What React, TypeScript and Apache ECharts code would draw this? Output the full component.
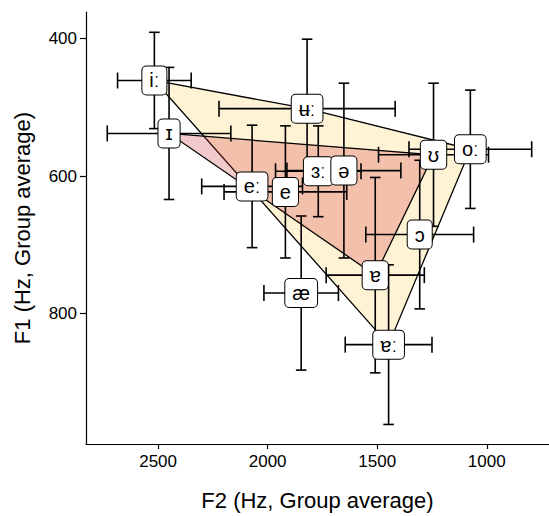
import { useEffect, useRef } from 'react';
import * as echarts from 'echarts';

// Vowel group averages (Hz) and standard deviations
const vowels = ['iː', 'ɪ', 'ʉː', 'ʊ', 'oː', 'ɜː', 'ə', 'eː', 'e', 'ɔ', 'ɐ', 'æ', 'ɐː'];
const f2Mean = [2517, 2450, 1820, 1243, 1075, 1769, 1652, 2071, 1919, 1306, 1509, 1847, 1448];
const f1Mean = [461, 538, 502, 569, 561, 593, 592, 615, 623, 685, 744, 770, 845];
const f2Sd = [168, 282, 402, 251, 280, 195, 260, 230, 280, 246, 224, 170, 198];
const f1Sd = [70, 96, 101, 104, 86, 66, 127, 89, 96, 108, 142, 112, 116];

// Polygon vertices (by vowel)
const longVowels = ['iː', 'ʉː', 'oː', 'ɐː'];
const shortVowels = ['ɪ', 'ʊ', 'ɐ'];

// Ticks
const xTicks = [1000, 1500, 2000, 2500];
const yTicks = [400, 600, 800];

const FONT = '"Liberation Sans", Arial, "DejaVu Sans", sans-serif';

function polygonSeries(names: string[], fill: string, z: number) {
  return {
    type: 'custom',
    z,
    silent: true,
    data: [[0]],
    renderItem: (_params: any, api: any) => {
      const points = names.map((n) => {
        const i = vowels.indexOf(n);
        return api.coord([f2Mean[i], f1Mean[i]]);
      });
      return {
        type: 'polygon',
        shape: { points },
        style: { fill, stroke: '#000', lineWidth: 1.3 },
      };
    },
  };
}

export default function App() {
  const ref = useRef<HTMLDivElement>(null);

  useEffect(() => {
    if (!ref.current) return;
    const chart = echarts.init(ref.current, null, { renderer: 'svg' });

    const barData = vowels.map((_, i) => [f2Mean[i], f1Mean[i], f2Sd[i], f1Sd[i]]);
    const labelData = vowels.map((v, i) => [f2Mean[i], f1Mean[i], v]);

    chart.setOption({
      animation: false,
      backgroundColor: '#fff',
      grid: { left: 86, top: 12, right: 0, bottom: 70 },
      xAxis: {
        type: 'value',
        inverse: true,
        min: 716,
        max: 2829,
        name: 'F2 (Hz, Group average)',
        nameLocation: 'middle',
        nameGap: 45,
        nameTextStyle: { fontSize: 22, fontFamily: FONT, color: '#000' },
        axisLine: { show: true, onZero: false, lineStyle: { color: '#000', width: 1.2 } },
        axisTick: { show: true, length: 5, customValues: xTicks, lineStyle: { color: '#000', width: 1.2 } },
        axisLabel: {
          customValues: xTicks,
          formatter: (v: number) => String(v),
          fontSize: 17,
          fontFamily: FONT,
          color: '#000',
          margin: 9,
        },
        splitLine: { show: false },
      },
      yAxis: {
        type: 'value',
        inverse: true,
        min: 361.5,
        max: 989.4,
        name: 'F1 (Hz, Group average)',
        nameLocation: 'middle',
        nameGap: 53,
        nameTextStyle: { fontSize: 22, fontFamily: FONT, color: '#000' },
        axisLine: { show: true, onZero: false, lineStyle: { color: '#000', width: 1.2 } },
        axisTick: { show: true, length: 6, customValues: yTicks, lineStyle: { color: '#000', width: 1.2 } },
        axisLabel: {
          customValues: yTicks,
          formatter: (v: number) => String(v),
          fontSize: 17,
          fontFamily: FONT,
          color: '#000',
          margin: 9,
        },
        splitLine: { show: false },
      },
      series: [
        polygonSeries(longVowels, '#FFF3D5', 1),
        polygonSeries(shortVowels, 'rgba(208,44,48,0.25)', 2),
        {
          type: 'custom',
          z: 3,
          silent: true,
          data: barData,
          renderItem: (_params: any, api: any) => {
            const x = api.value(0);
            const y = api.value(1);
            const sx = api.value(2);
            const sy = api.value(3);
            const top = api.coord([x, y - sy]);
            const bot = api.coord([x, y + sy]);
            const lft = api.coord([x + sx, y]);
            const rgt = api.coord([x - sx, y]);
            const cw = 5.3;
            const ch = 8;
            const st = { stroke: '#000', lineWidth: 1.6 };
            const ln = (x1: number, y1: number, x2: number, y2: number) => ({
              type: 'line',
              shape: { x1, y1, x2, y2 },
              style: st,
            });
            return {
              type: 'group',
              children: [
                ln(top[0], top[1], bot[0], bot[1]),
                ln(top[0] - cw, top[1], top[0] + cw, top[1]),
                ln(bot[0] - cw, bot[1], bot[0] + cw, bot[1]),
                ln(lft[0], lft[1], rgt[0], rgt[1]),
                ln(lft[0], lft[1] - ch, lft[0], lft[1] + ch),
                ln(rgt[0], rgt[1] - ch, rgt[0], rgt[1] + ch),
              ],
            };
          },
        },
        {
          type: 'scatter',
          z: 5,
          silent: true,
          symbolSize: 1,
          itemStyle: { color: 'rgba(0,0,0,0)', opacity: 1 },
          data: labelData,
          label: {
            show: true,
            position: 'inside',
            formatter: (p: any) => p.data[2],
            fontSize: 20,
            fontFamily: FONT,
            color: '#000',
            lineHeight: 20,
            backgroundColor: '#fff',
            borderColor: '#000',
            borderWidth: 1,
            borderRadius: 4,
            padding: [4, 7, 4, 7],
          },
        },
      ],
    });

    return () => chart.dispose();
  }, []);

  return (
    <div
      ref={ref}
      style={{ position: 'absolute', left: 0, top: 0, width: 549, height: 516 }}
    />
  );
}
